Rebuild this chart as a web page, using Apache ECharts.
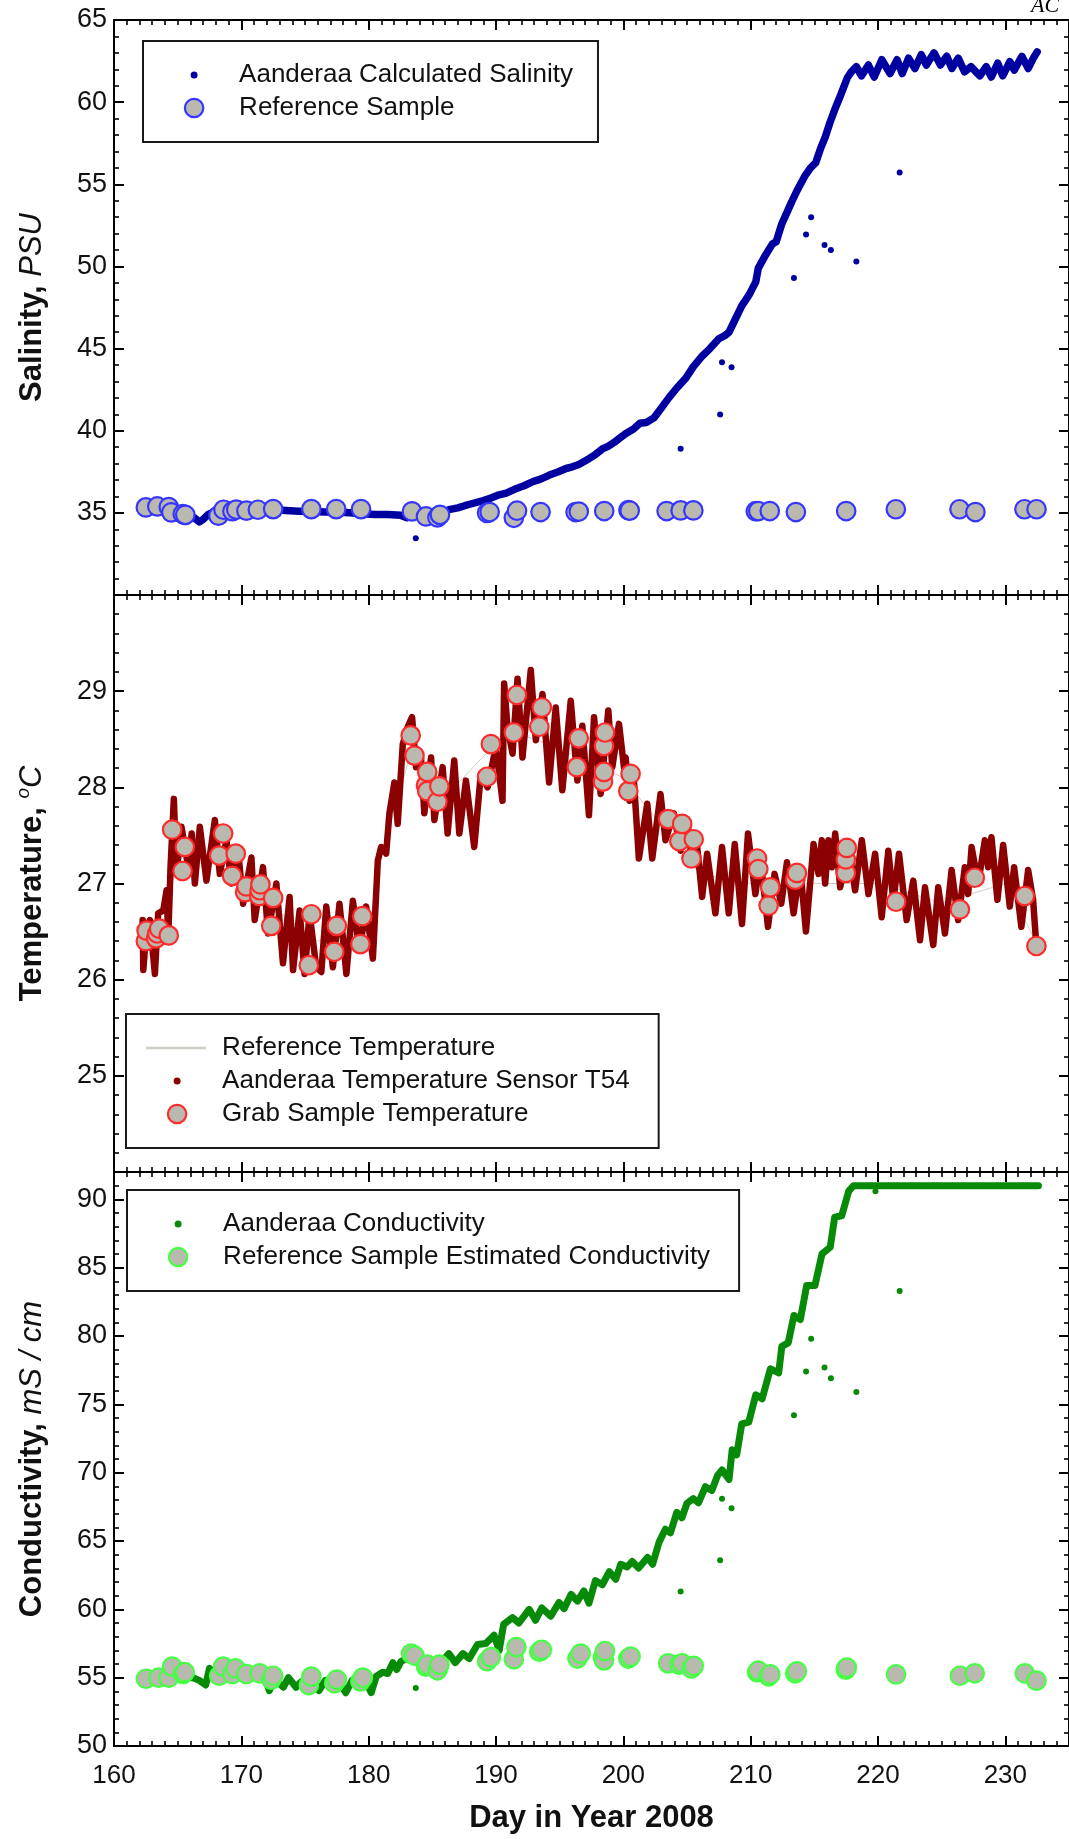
<!DOCTYPE html>
<html>
<head>
<meta charset="utf-8">
<script src="https://cdn.jsdelivr.net/npm/echarts@6/dist/echarts.min.js"></script>
<style>
  html, body { margin: 0; padding: 0; background: #ffffff; }
  #chart { width: 1069px; height: 1839px; }
</style>
</head>
<body>
<div id="chart"></div>
<script>
// ---------- Salinity panel ----------
// Aanderaa calculated salinity (day of year, PSU)
const salinityRecord = [
  [162.3,35.35],[163.0,35.3],[163.8,35.3],[164.5,35.2],[165.2,35.0],[165.8,34.85],[166.3,34.7],[166.7,34.45],
  [167.0,34.6],[167.4,34.9],[167.8,35.05],[168.5,35.1],[169.5,35.15],[170.5,35.15],[171.5,35.2],[172.5,35.2],
  [173.5,35.15],[174.5,35.1],[175.5,35.1],[176.5,35.05],[177.5,35.05],[178.5,35.0],[179.5,34.95],[180.5,34.9],
  [181.5,34.9],[182.5,34.85],[183.0,34.7],[183.5,34.85],[184.3,34.8],[185.0,34.85],[185.8,34.95],[186.3,35.2],
  [187.0,35.3],[187.6,35.45],[188.3,35.6],[189.0,35.75],[189.6,35.9],[190.25,36.1],[190.8,36.2],[191.5,36.45],
  [192.2,36.65],[192.9,36.9],[193.5,37.05],[194.2,37.3],[194.9,37.5],[195.5,37.7],[196.0,37.8],[196.5,37.95],
  [197.3,38.3],[197.8,38.55],[198.35,38.89],[198.8,39.05],[199.3,39.3],[199.8,39.6],[200.2,39.83],[200.8,40.1],
  [201.3,40.45],[201.8,40.5],[202.4,40.78],[203.0,41.4],[203.6,42.03],[204.2,42.6],[204.9,43.19],[205.5,43.9],
  [206.2,44.55],[206.8,45.0],[207.5,45.6],[208.0,45.8],[208.3,46.0],[208.8,46.8],[209.3,47.6],[209.9,48.3],
  [210.4,49.06],[210.6,49.9],[211.1,50.6],[211.7,51.36],[212.0,51.5],[212.45,52.6],[212.8,53.2],[213.2,53.9],
  [213.7,54.7],[214.3,55.56],[214.7,56.0],[215.1,56.3],[215.5,57.2],[215.85,57.86],[216.2,58.7],[216.6,59.54],
  [217.0,60.3],[217.3,60.9],[217.6,61.5],[217.9,61.84],[218.3,62.16],[218.7,61.6],[219.25,62.26],[219.7,61.53],
  [220.3,62.58],[220.95,61.74],[221.5,62.58],[221.9,61.74],[222.4,62.68],[222.9,62.05],[223.4,62.89],[223.8,62.26],
  [224.4,63.0],[224.9,62.26],[225.4,62.79],[225.8,62.05],[226.3,62.68],[226.8,61.84],[227.3,62.16],[228.0,61.6],
  [228.5,62.16],[228.9,61.53],[229.4,62.37],[229.8,61.6],[230.35,62.47],[230.7,61.95],[231.3,62.79],[231.8,62.05],
  [232.2,62.68],[232.5,63.06]
];
// isolated salinity readings away from the main trace
const salinityStrays = [
  [183.7,33.46],[204.5,38.9],[207.6,40.98],[207.75,44.17],[208.5,43.86],[213.4,49.3],
  [214.35,51.95],[214.75,53.0],[215.8,51.3],[216.3,51.0],[218.3,50.3],[221.7,55.72]
];
// reference bottle samples (PSU)
const salinitySamples = [
  [162.5,35.33],[163.4,35.39],[164.3,35.35],[164.5,35.03],[165.4,34.93],[165.6,34.88],[168.2,34.83],[168.6,35.19],
  [169.3,35.1],[169.6,35.2],[170.4,35.13],[171.3,35.19],[172.5,35.23],[175.5,35.23],[177.45,35.23],[179.4,35.23],
  [183.4,35.09],[184.5,34.78],[185.4,34.72],[185.6,34.88],[189.3,35.0],[189.5,35.05],[191.4,34.7],[191.65,35.13],
  [193.5,35.05],[196.25,35.05],[196.5,35.08],[198.5,35.11],[200.4,35.17],[200.5,35.14],[203.4,35.11],[204.5,35.15],
  [205.5,35.15],[210.4,35.1],[210.6,35.11],[211.5,35.11],[213.55,35.05],[217.5,35.11],[221.4,35.22],[226.4,35.22],
  [227.65,35.05],[231.5,35.22],[232.45,35.22]
];

// ---------- Temperature panel ----------
// reference thermometer trace (degC)
const referenceTemperature = [
  [162.2,26.1],[164.0,26.6],[165.0,27.3],[168.0,27.3],[172.0,26.8],[176.0,26.4],[180.0,26.5],[181.0,27.3],
  [183.4,28.4],[186.0,27.9],[191.0,28.6],[195.0,28.4],[200.0,28.1],[203.0,27.6],[206.0,27.1],[210.0,27.0],
  [215.0,27.0],[220.0,27.0],[225.0,26.8],[230.0,27.0],[232.4,26.4]
];
// Aanderaa T54 sensor: daily highs and lows (degC)
const sensorTemperature = [
  [162.25,26.62],[162.3,26.10],[162.56,26.55],[162.82,26.62],[163.21,26.06],[163.47,26.69],[163.87,26.72],[164.13,26.93],
  [164.26,26.44],[164.44,27.17],[164.7,27.88],[164.91,27.10],[165.3,27.59],[165.83,27.17],[166.1,27.52],[166.35,27.0],
  [166.74,27.59],[167.26,27.03],[167.92,27.66],[168.31,27.10],[168.83,27.45],[169.22,27.0],[169.75,27.34],[170.14,26.79],
  [170.79,27.27],[171.05,26.62],[171.7,27.17],[172.1,26.48],[172.75,27.0],[173.27,26.17],[173.79,26.86],[174.06,26.10],
  [174.58,26.72],[174.97,26.06],[175.36,26.69],[175.88,26.13],[176.28,26.08],[176.67,26.76],[177.19,26.13],[177.71,26.79],
  [178.25,26.06],[178.76,26.82],[179.28,26.30],[179.8,26.76],[180.33,26.22],[180.72,27.24],[180.98,27.38],[181.37,27.31],
  [181.63,27.73],[182.02,28.05],[182.28,27.62],[182.68,28.45],[183.07,28.63],[183.41,28.73],[183.72,28.21],[184.11,28.31],
  [184.37,27.73],[184.9,28.31],[185.16,27.66],[185.81,28.21],[186.2,27.52],[186.72,28.28],[187.12,27.52],[187.64,28.07],
  [188.29,27.38],[188.81,28.14],[189.34,28.0],[189.99,28.42],[190.51,27.86],[190.64,29.08],[190.9,28.63],[191.3,28.35],
  [191.69,29.13],[192.08,28.31],[192.73,29.22],[193.13,28.49],[193.65,28.97],[194.17,28.05],[194.69,28.83],[195.21,27.97],
  [195.87,28.90],[196.39,28.07],[196.78,28.64],[197.3,27.71],[197.7,28.73],[198.22,27.93],[198.82,28.8],[199.13,28.21],
  [199.66,28.66],[200.05,28.21],[200.18,28.31],[200.49,27.86],[200.83,28.07],[201.22,27.26],[201.88,27.83],[202.27,27.26],
  [202.92,27.93],[203.31,27.45],[203.97,27.73],[204.49,27.34],[205.01,27.66],[205.4,27.24],[205.8,27.38],[206.19,26.86],
  [206.58,27.31],[207.23,26.69],[207.75,27.38],[208.28,26.69],[208.75,27.41],[209.32,26.58],[209.79,27.52],[210.37,26.89],
  [210.76,27.27],[211.36,26.55],[211.88,27.10],[212.4,26.79],[212.85,27.22],[213.37,26.69],[213.89,27.17],[214.34,26.50],
  [214.94,27.41],[215.33,27.1],[215.59,27.45],[215.85,27.0],[216.11,27.45],[216.38,27.17],[216.64,27.52],[217.03,26.96],
  [217.68,27.41],[218.2,26.93],[218.73,27.45],[219.25,26.89],[219.77,27.31],[220.29,26.65],[220.81,27.34],[221.21,26.82],
  [221.65,27.31],[222.25,26.62],[222.77,27.03],[223.3,26.41],[223.69,26.96],[224.34,26.36],[224.73,26.96],[225.26,26.48],
  [225.78,27.14],[226.3,26.62],[226.82,27.17],[227.08,26.89],[227.35,27.38],[227.87,27.0],[228.39,27.45],[228.65,27.17],
  [228.91,27.48],[229.38,26.83],[229.83,27.40],[230.35,26.76],[230.69,27.17],[231.26,26.55],[231.79,27.14],[232.18,26.83],
  [232.44,26.34]
];
// grab sample temperatures (degC)
const grabTemperature = [
  [162.5,26.40],[162.56,26.51],[163.3,26.43],[163.4,26.48],[163.55,26.53],[164.3,26.46],[164.57,27.56],[165.38,27.13],
  [165.56,27.38],[168.26,27.29],[168.57,27.52],[169.27,27.08],[169.56,27.31],[170.3,26.91],[170.4,26.97],[171.4,26.87],
  [171.44,26.93],[171.5,26.99],[172.35,26.56],[172.5,26.85],[175.3,26.15],[175.5,26.68],[177.3,26.29],[177.5,26.56],
  [179.35,26.37],[179.5,26.66],[183.3,28.54],[183.6,28.33],[184.5,28.02],[184.6,27.96],[184.6,28.16],[185.4,27.85],
  [185.55,28.01],[189.3,28.11],[189.6,28.45],[191.4,28.57],[191.64,28.96],[193.4,28.63],[193.6,28.83],[196.35,28.21],
  [196.5,28.51],[198.4,28.06],[198.48,28.16],[198.48,28.43],[198.56,28.57],[200.39,27.96],[200.57,28.14],[203.52,27.67],
  [204.4,27.44],[204.62,27.62],[205.35,27.26],[205.53,27.46],[210.5,27.26],[210.6,27.15],[211.41,26.77],[211.54,26.96],
  [213.5,27.04],[213.63,27.11],[217.47,27.11],[217.47,27.25],[217.55,27.37],[221.42,26.81],[226.43,26.73],[227.6,27.06],
  [231.53,26.87],[232.44,26.35]
];

// ---------- Conductivity panel ----------
// Aanderaa conductivity (mS/cm)
const conductivityRecord = [
  [162.3,55.0],[163.0,55.1],[163.8,55.0],[164.5,55.2],[165.3,55.3],[165.8,55.0],[166.2,55.0],[166.7,54.8],
  [167.2,54.46],[167.5,55.68],[168.0,55.2],[168.6,55.4],[169.3,55.2],[170.0,55.3],[170.7,55.1],[171.4,55.2],
  [171.9,54.9],[172.2,54.05],[172.6,54.9],[173.3,54.3],[173.7,55.0],[174.3,54.3],[174.7,54.7],[175.3,54.4],
  [175.7,54.8],[176.1,54.05],[176.6,54.8],[177.2,54.3],[177.6,54.8],[178.2,53.9],[178.7,54.8],[179.3,54.3],
  [179.7,54.9],[180.2,53.9],[180.6,55.1],[181.1,55.4],[181.5,55.3],[181.9,56.1],[182.2,55.6],[182.55,56.2],
  [183.2,56.5],[184.0,56.0],[184.8,56.2],[185.5,55.9],[186.3,56.76],[186.8,56.1],[187.4,56.76],[187.9,56.4],
  [188.55,57.43],[189.2,57.5],[189.85,58.1],[190.25,57.0],[190.6,58.9],[191.3,59.4],[191.8,59.0],[192.6,60.0],
  [193.1,59.2],[193.6,60.1],[194.3,59.5],[194.95,60.5],[195.35,60.05],[195.9,61.1],[196.4,60.6],[196.9,61.35],
  [197.3,60.45],[197.8,62.1],[198.35,61.8],[198.9,62.76],[199.4,62.2],[199.8,63.3],[200.3,63.1],[200.7,63.5],
  [201.2,63.03],[201.9,63.8],[202.3,63.3],[202.8,64.9],[203.3,65.86],[203.7,65.6],[204.2,67.1],[204.6,66.7],
  [205.0,67.76],[205.5,68.1],[205.9,67.8],[206.45,68.97],[206.95,68.7],[207.4,69.8],[207.75,70.2],[208.3,69.5],
  [208.55,71.68],[208.9,71.3],[209.3,73.57],[209.85,73.7],[210.4,75.7],[210.9,75.4],[211.55,77.6],[212.2,77.3],
  [212.45,79.24],[212.95,79.5],[213.4,81.5],[213.9,81.2],[214.4,83.7],[215.05,83.7],[215.6,86.0],[216.25,86.5],
  [216.6,88.7],[217.15,88.8],[217.7,90.6],[218.07,91.0],[232.6,91.0]
];
// isolated conductivity readings away from the main trace
const conductivityStrays = [
  [183.7,54.24],[204.5,61.3],[207.6,63.6],[207.75,68.1],[208.5,67.4],[213.4,74.2],[214.35,77.4],
  [214.75,79.8],[215.8,77.7],[216.3,76.9],[218.3,75.9],[219.8,90.6],[221.7,83.3]
];
// conductivity estimated from the reference samples (mS/cm)
const conductivitySamples = [
  [162.51,54.92],[163.5,55.0],[164.3,55.0],[164.57,55.81],[165.43,55.27],[165.56,55.4],[168.26,55.14],[168.57,55.81],
  [169.3,55.27],[169.54,55.68],[170.4,55.27],[171.44,55.32],[172.35,54.86],[172.5,55.14],[175.3,54.46],[175.5,55.08],
  [177.3,54.6],[177.5,54.86],[179.35,54.73],[179.54,55.0],[183.33,56.76],[183.6,56.62],[184.5,55.81],[184.6,55.95],
  [185.4,55.54],[185.55,55.95],[189.3,56.2],[189.6,56.5],[191.4,56.35],[191.6,57.24],[193.4,56.9],[193.6,57.03],
  [196.4,56.4],[196.65,56.76],[198.4,56.49],[198.48,56.27],[198.56,56.95],[200.39,56.4],[200.57,56.54],[203.52,56.05],
  [204.4,55.95],[204.62,56.05],[205.35,55.68],[205.53,55.86],[210.5,55.4],[210.6,55.51],[211.41,55.1],[211.54,55.24],
  [213.5,55.32],[213.63,55.46],[217.47,55.59],[217.55,55.73],[221.42,55.24],[226.43,55.14],[227.6,55.32],[231.53,55.32],
  [232.44,54.78]
];

// ---------- axis settings ----------
const dayRange = [160, 235];
const panelRanges = [
  { min: 30, max: 65, major: 5, minor: 1 },
  { min: 24, max: 30, major: 1, minor: 0.2 },
  { min: 50, max: 92, major: 5, minor: 1 }
];

// ---------- styling ----------
const FONT = '"Liberation Sans", Arial, sans-serif';
const INK = '#111111';
const SAMPLE_FILL = '#b9b9b0';
const SAL = '#0000a0', SAL_EDGE = '#3535ff';
const TEMP = '#8b0000', TEMP_EDGE = '#ff2a2a';
const COND = '#078a07', COND_EDGE = '#45ff45';
const REF_LINE = '#cfcfc7';

// legend glyphs share an 80x20 box so every label lines up
const DOT_ICON = 'path://M0,0M80,20M36.5,10a3.5,3.5 0 1,0 7,0a3.5,3.5 0 1,0 -7,0Z';
const RING_ICON = 'path://M0,0M80,20M30.8,10a9.2,9.2 0 1,0 18.4,0a9.2,9.2 0 1,0 -18.4,0Z';
const LINE_ICON = 'path://M0,0M80,20M9,8.8L69,8.8L69,11.2L9,11.2Z';

const grids = [
  { left: 114, top: 20, width: 957, height: 575 },
  { left: 114, top: 595, width: 957, height: 577 },
  { left: 114, top: 1172, width: 957, height: 574 }
];

const yNames = [
  '{b|Salinity, }{i|PSU}',
  '{b|Temperature, }{s|o}{i|C}',
  '{b|Conductivity, }{i|mS / cm}'
];
const titleRich = {
  b: { fontFamily: FONT, fontWeight: 'bold', fontSize: 31, color: INK, lineHeight: 36 },
  i: { fontFamily: FONT, fontStyle: 'italic', fontSize: 31, color: INK, lineHeight: 36 },
  s: { fontFamily: FONT, fontStyle: 'italic', fontSize: 19, color: INK, verticalAlign: 'top', lineHeight: 24 }
};

const lineTick = { color: '#000', width: 2 };
const xAxes = [], yAxes = [];
grids.forEach((g, gi) => {
  const last = gi === grids.length - 1;
  ['bottom', 'top'].forEach(pos => {
    xAxes.push({
      gridIndex: gi, type: 'value', position: pos, min: dayRange[0], max: dayRange[1], interval: 10,
      axisLine: { show: true, onZero: false, lineStyle: { color: '#000', width: 2 } },
      axisTick: { show: true, inside: true, length: 10, lineStyle: lineTick },
      axisLabel: {
        show: last && pos === 'bottom', showMaxLabel: false, margin: 17,
        fontFamily: FONT, fontSize: 26, color: INK
      },
      splitLine: { show: false },
      name: (last && pos === 'bottom') ? 'Day in Year 2008' : '',
      nameLocation: 'middle', nameGap: 57,
      nameTextStyle: { fontFamily: FONT, fontWeight: 'bold', fontSize: 31, color: INK }
    });
    xAxes.push({
      gridIndex: gi, type: 'value', position: pos, min: dayRange[0], max: dayRange[1], interval: 1,
      axisLine: { show: false, onZero: false },
      axisTick: { show: true, inside: true, length: 5, lineStyle: { color: '#000', width: 1.6 } },
      axisLabel: { show: false }, splitLine: { show: false }
    });
  });
  const r = panelRanges[gi];
  ['left', 'right'].forEach(pos => {
    yAxes.push({
      gridIndex: gi, type: 'value', position: pos, min: r.min, max: r.max, interval: r.major,
      axisLine: { show: true, onZero: false, lineStyle: { color: '#000', width: 2 } },
      axisTick: { show: true, inside: true, length: 10, lineStyle: lineTick },
      axisLabel: {
        show: pos === 'left', showMinLabel: gi === 2, showMaxLabel: gi === 0, margin: 7,
        fontFamily: FONT, fontSize: 27, color: INK
      },
      splitLine: { show: false },
      name: pos === 'left' ? yNames[gi] : '',
      nameLocation: 'middle', nameGap: 64, nameRotate: 90,
      nameTextStyle: { rich: titleRich }
    });
    yAxes.push({
      gridIndex: gi, type: 'value', position: pos, min: r.min, max: r.max, interval: r.minor,
      axisLine: { show: false, onZero: false },
      axisTick: { show: true, inside: true, length: 5, lineStyle: { color: '#000', width: 1.6 } },
      axisLabel: { show: false }, splitLine: { show: false }
    });
  });
});

function sampleSeries(name, data, panel, edge) {
  return {
    name, type: 'scatter', data, xAxisIndex: panel * 4, yAxisIndex: panel * 4,
    symbol: 'circle', symbolSize: 18.5, z: 4,
    itemStyle: { color: SAMPLE_FILL, borderColor: edge, borderWidth: 2.2, opacity: 1 }
  };
}
function traceSeries(name, data, panel, color, width, z) {
  return {
    name, type: 'line', data, xAxisIndex: panel * 4, yAxisIndex: panel * 4,
    showSymbol: false, symbol: 'none', z, clip: true,
    itemStyle: { color },
    lineStyle: { color, width, join: 'round', cap: 'round' }
  };
}
function straySeries(name, data, panel, color) {
  return {
    name, type: 'scatter', data, xAxisIndex: panel * 4, yAxisIndex: panel * 4,
    symbol: 'circle', symbolSize: 6, z: 3, itemStyle: { color, opacity: 1 }
  };
}

function legendBox(top, left, padRight, entries) {
  return {
    show: true, orient: 'vertical', left, top, selectedMode: false,
    padding: [19, padRight, 19, 10], itemGap: 3, itemWidth: 80, itemHeight: 20,
    backgroundColor: '#ffffff', borderColor: '#1a1a1a', borderWidth: 2, borderRadius: 0,
    textStyle: { fontFamily: FONT, fontSize: 26, color: INK, lineHeight: 30 },
    data: entries
  };
}

const option = {
  animation: false,
  backgroundColor: '#ffffff',
  textStyle: { fontFamily: FONT },
  grid: grids,
  xAxis: xAxes,
  yAxis: yAxes,
  legend: [
    legendBox(41, 143, 25, [
      { name: 'Aanderaa Calculated Salinity', icon: DOT_ICON, itemStyle: { color: SAL, borderWidth: 0 } },
      { name: 'Reference Sample', icon: RING_ICON, itemStyle: { color: SAMPLE_FILL, borderColor: SAL_EDGE, borderWidth: 2.2 } }
    ]),
    legendBox(1014, 126, 29, [
      { name: 'Reference Temperature', icon: LINE_ICON, itemStyle: { color: REF_LINE, borderWidth: 0 } },
      { name: 'Aanderaa Temperature Sensor T54', icon: DOT_ICON, itemStyle: { color: TEMP, borderWidth: 0 } },
      { name: 'Grab Sample Temperature', icon: RING_ICON, itemStyle: { color: SAMPLE_FILL, borderColor: TEMP_EDGE, borderWidth: 2.2 } }
    ]),
    legendBox(1190, 127, 29, [
      { name: 'Aanderaa Conductivity', icon: DOT_ICON, itemStyle: { color: COND, borderWidth: 0 } },
      { name: 'Reference Sample Estimated Conductivity', icon: RING_ICON, itemStyle: { color: SAMPLE_FILL, borderColor: COND_EDGE, borderWidth: 2.2 } }
    ])
  ],
  graphic: [
    { type: 'text', left: 1031, top: -5, silent: true,
      style: { text: 'AC', font: 'italic 22px "Liberation Serif", serif', fill: '#000' } }
  ],
  series: [
    traceSeries('Aanderaa Calculated Salinity', salinityRecord, 0, SAL, 7.5, 2),
    straySeries('Aanderaa Calculated Salinity', salinityStrays, 0, SAL),
    sampleSeries('Reference Sample', salinitySamples, 0, SAL_EDGE),

    traceSeries('Reference Temperature', referenceTemperature, 1, REF_LINE, 1, 1),
    traceSeries('Aanderaa Temperature Sensor T54', sensorTemperature, 1, TEMP, 6.5, 2),
    sampleSeries('Grab Sample Temperature', grabTemperature, 1, TEMP_EDGE),

    traceSeries('Aanderaa Conductivity', conductivityRecord, 2, COND, 7, 2),
    straySeries('Aanderaa Conductivity', conductivityStrays, 2, COND),
    sampleSeries('Reference Sample Estimated Conductivity', conductivitySamples, 2, COND_EDGE)
  ]
};

const chart = echarts.init(document.getElementById('chart'), null, { renderer: 'canvas' });
chart.setOption(option);
</script>
</body>
</html>
